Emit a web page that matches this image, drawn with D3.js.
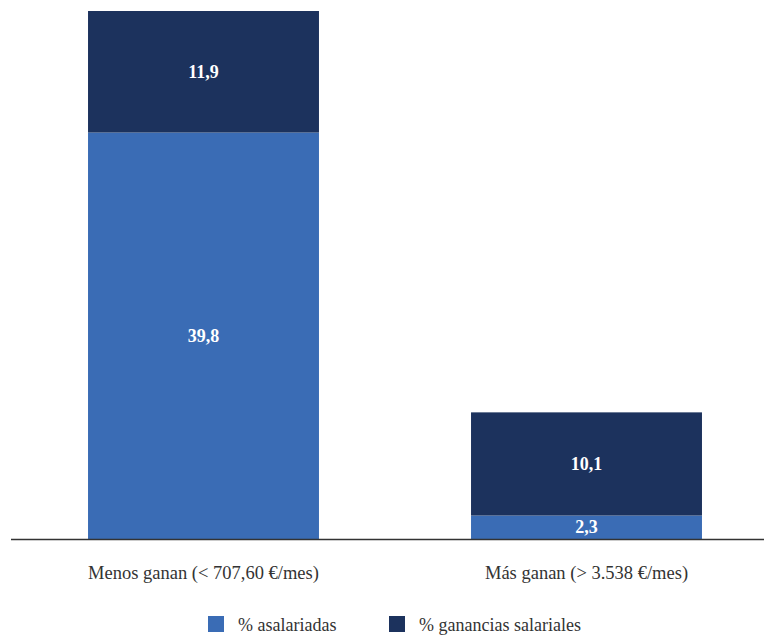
<!DOCTYPE html>
<html>
<head>
  <style>
    body{
      margin:0;
      background:#fff;
    }
    svg text{
      font-family:"Liberation Serif", "Times New Roman", serif;
    }
    .cat-label{
      fill:#333;
      font-size:18.5px;
    }
    .val-label{
      fill:#fff;
      font-size:18px;
      font-weight:bold;
    }
    .legend-label{
      fill:#333;
      font-size:18px;
    }
  </style>
  <script src="https://d3js.org/d3.v7.min.js"></script>
</head>
<body>
<div class="chart"></div>
<script>
const categories = ['Menos ganan (< 707,60 €/mes)', 'Más ganan (> 3.538 €/mes)'];
const seriesNames = ['% asalariadas', '% ganancias salariales'];
const asalariadas = [39.8, 2.3];
const ganancias = [11.9, 10.1];
const seriesColours = ['#3a6cb5', '#1c325d'];

const width = 764;
const height = 635;
const baseline = 539;
const serif = 'Liberation Serif';

const svg = d3.select('.chart')
  .append('svg')
  .attr('width', width)
  .attr('height', height);

const rows = categories.map((c, i) => ({
  category: c,
  [seriesNames[0]]: asalariadas[i],
  [seriesNames[1]]: ganancias[i]
}));

const stacked = d3.stack().keys(seriesNames)(rows);

const x = d3.scaleBand()
  .domain(categories)
  .range([12, 778])
  .paddingInner(0.397)
  .paddingOuter(0.1985);

const y = d3.scaleLinear()
  .domain([0, d3.max(rows, d => d[seriesNames[0]] + d[seriesNames[1]])])
  .range([baseline, 11]);

const colour = d3.scaleOrdinal().domain(seriesNames).range(seriesColours);

const fmt = d3.formatLocale({decimal: ',', thousands: '.', grouping: [3], currency: ['', '€']}).format('.1f');

const layers = svg.selectAll('g.layer')
  .data(stacked)
  .join('g')
  .attr('class', 'layer')
  .attr('fill', d => colour(d.key));

layers.selectAll('rect')
  .data(d => d)
  .join('rect')
  .attr('x', d => x(d.data.category))
  .attr('y', d => y(d[1]))
  .attr('width', x.bandwidth())
  .attr('height', d => y(d[0]) - y(d[1]));

layers.selectAll('text')
  .data(d => d)
  .join('text')
  .attr('class', 'val-label')
  .attr('font-family', serif)
  .attr('text-anchor', 'middle')
  .attr('x', d => x(d.data.category) + x.bandwidth() / 2)
  .attr('y', d => (y(d[0]) + y(d[1])) / 2 + 6)
  .text(d => fmt(d[1] - d[0]));

// axis line
svg.append('line')
  .attr('x1', 11)
  .attr('x2', width)
  .attr('y1', baseline + 0.5)
  .attr('y2', baseline + 0.5)
  .attr('stroke', '#333')
  .attr('stroke-width', 1.3);

svg.append('g')
  .selectAll('text')
  .data(categories)
  .join('text')
  .attr('class', 'cat-label')
  .attr('font-family', serif)
  .attr('text-anchor', 'middle')
  .attr('x', d => x(d) + x.bandwidth() / 2)
  .attr('y', 579)
  .text(d => d);

// legend
const legendX = [208, 389];
const legend = svg.append('g')
  .selectAll('g')
  .data(seriesNames)
  .join('g')
  .attr('transform', (d, i) => `translate(${legendX[i]}, 616)`);

legend.append('rect')
  .attr('width', 16)
  .attr('height', 16)
  .attr('fill', d => colour(d));

legend.append('text')
  .attr('class', 'legend-label')
  .attr('font-family', serif)
  .attr('x', 30)
  .attr('y', 15)
  .text(d => d);
</script>
</body>
</html>
